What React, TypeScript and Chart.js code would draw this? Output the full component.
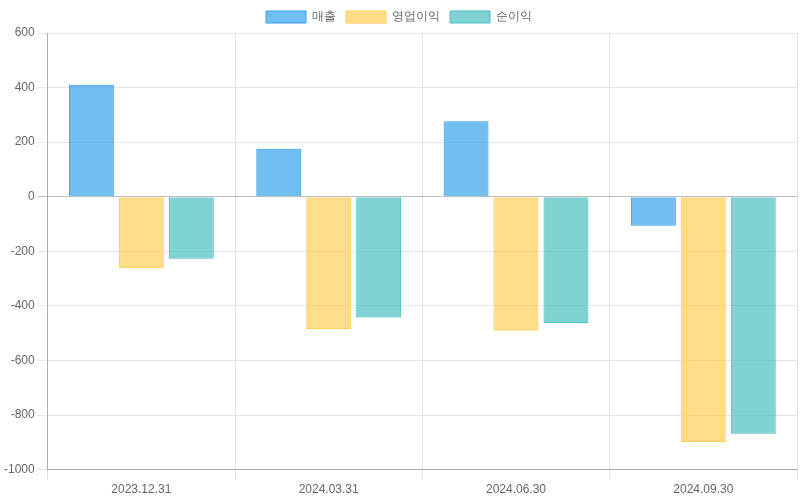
import React, { useEffect, useRef } from "react";
import { Chart, registerables } from "chart.js";

Chart.register(...registerables);

const categories = ["2023.12.31", "2024.03.31", "2024.06.30", "2024.09.30"];
const salesValues = [410, 176, 277, -106];
const operatingValues = [-262, -485, -491, -899];
const netValues = [-227, -443, -463, -869];
const seriesNames = ["매출", "영업이익", "순이익"];

export default function App() {
  const ref = useRef<HTMLCanvasElement | null>(null);
  useEffect(() => {
    if (!ref.current) return;
    Chart.defaults.font.family = "'Liberation Sans', Arial, Helvetica, sans-serif";
    Chart.defaults.font.size = 12;
    Chart.defaults.color = "#666";
    const chart = new Chart(ref.current, {
      type: "bar",
      data: {
        labels: categories,
        datasets: [
          {
            label: seriesNames[0],
            data: salesValues,
            backgroundColor: "rgba(54,162,235,0.7)",
            borderColor: "rgba(54,162,235,1)",
            borderWidth: 1,
          },
          {
            label: seriesNames[1],
            data: operatingValues,
            backgroundColor: "rgba(255,206,86,0.7)",
            borderColor: "rgba(255,206,86,1)",
            borderWidth: 1,
          },
          {
            label: seriesNames[2],
            data: netValues,
            backgroundColor: "rgba(75,192,192,0.7)",
            borderColor: "rgba(75,192,192,1)",
            borderWidth: 1,
          },
        ],
      },
      options: {
        animation: false,
        responsive: false,
        maintainAspectRatio: false,
        layout: { padding: { top: 1, left: 1, right: 3, bottom: 0 } },
        plugins: {
          legend: {
            position: "top",
            labels: { boxWidth: 40, boxHeight: 12, color: "#666", font: { size: 12 } },
          },
          tooltip: { enabled: false },
        },
        scales: {
          x: {
            grid: {
              color: "rgba(0,0,0,0.1)",
              offset: true,
              tickLength: 10,
            },
            border: { color: "rgba(0,0,0,0.25)" },
            ticks: { color: "#666" },
          },
          y: {
            min: -1000,
            max: 600,
            ticks: {
              stepSize: 200,
              color: "#666",
              callback: (v: any) => String(v),
            },
            grid: {
              color: (ctx: any) =>
                ctx.tick && ctx.tick.value === 0 ? "rgba(0,0,0,0.25)" : "rgba(0,0,0,0.1)",
              tickLength: 10,
            },
            border: { color: "rgba(0,0,0,0.25)" },
          },
        },
      },
    });
    return () => chart.destroy();
  }, []);
  return (
    <div style={{ position: "fixed", left: 0, top: 0, width: 800, height: 500, background: "#fff" }}>
      <canvas ref={ref} width={800} height={500} style={{ display: "block" }} />
    </div>
  );
}
